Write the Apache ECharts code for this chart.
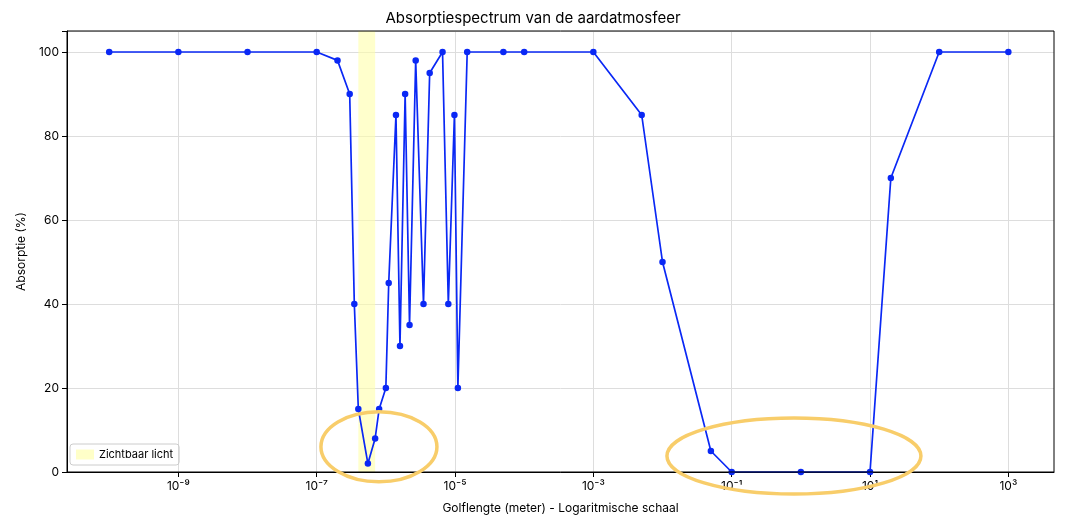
<!DOCTYPE html>
<html>
<head>
<meta charset="utf-8">
<script src="https://cdn.jsdelivr.net/npm/echarts@6/dist/echarts.min.js"></script>
<style>body{margin:0}#chart{width:1066px;height:524px}</style>
</head>
<body>
<div id="chart"></div>
<script>
// golflengte (m) en absorptie (%)
const wavelengths = [1e-10,1e-9,1e-8,1e-7,2e-7,3e-7,3.5e-7,4e-7,5.5e-7,7e-7,8e-7,1e-6,1.1e-6,1.4e-6,1.6e-6,1.9e-6,2.2e-6,2.7e-6,3.5e-6,4.3e-6,6.6e-6,8e-6,9.8e-6,1.1e-5,1.5e-5,5e-5,1e-4,1e-3,5e-3,1e-2,5e-2,1e-1,1,10,20,100,1000];
const absorption = [100,100,100,100,98,90,40,15,2,8,15,20,45,85,30,90,35,98,40,95,100,40,85,20,100,100,100,100,85,50,5,0,0,0,70,100,100];
const visibleBand = [4e-7, 7e-7];
const tickExps = [-9,-7,-5,-3,-1,1,3];
const sup = {'-':'⁻','0':'⁰','1':'¹','2':'²','3':'³','4':'⁴','5':'⁵','6':'⁶','7':'⁷','8':'⁸','9':'⁹'};

const data = wavelengths.map((w, i) => [Math.log10(w), absorption[i]]);
const font = 'Inter, "DejaVu Sans", sans-serif';

let myChart = echarts.init(document.getElementById('chart'));
let option = {
  animation: false,
  textStyle: {fontFamily: font},
  title: {text: 'Absorptiespectrum van de aardatmosfeer', left: 'center', top: 6,
    textStyle: {fontSize: 15, fontWeight: 'normal', color: '#000', fontFamily: font}},
  grid: {left: 67, right: 12, top: 31, bottom: 52},
  legend: {left: 70, top: 444, orient: 'vertical', data: [{name: 'Zichtbaar licht', icon: 'rect'}],
    itemWidth: 18, itemHeight: 10, borderColor: '#ccc', borderWidth: 1, borderRadius: 3, padding: [5, 6],
    textStyle: {fontSize: 11, color: '#000'}},
  xAxis: {
    type: 'value', min: -10.61, max: 3.66,
    name: 'Golflengte (meter) - Logaritmische schaal', nameLocation: 'middle', nameGap: 30,
    nameTextStyle: {fontSize: 12, color: '#000'},
    axisLine: {onZero: false, lineStyle: {color: '#000'}},
    axisTick: {show: true, customValues: tickExps, lineStyle: {color: '#000'}},
    axisLabel: {customValues: tickExps, color: '#000', fontSize: 12,
      formatter: v => '10' + String(v).split('').map(c => sup[c]).join('')},
    splitLine: {show: true, lineStyle: {color: '#ddd'}}
  },
  yAxis: {
    type: 'value', min: 0, max: 105, interval: 20,
    name: 'Absorptie (%)', nameLocation: 'middle', nameGap: 40,
    nameTextStyle: {fontSize: 12, color: '#000'},
    axisLine: {show: true, onZero: false, lineStyle: {color: '#000'}},
    axisTick: {show: true, lineStyle: {color: '#000'}},
    axisLabel: {color: '#000', fontSize: 12, formatter: v => v > 100 ? '' : v},
    splitLine: {lineStyle: {color: '#ddd'}}
  },
  series: [
    {name: 'Zichtbaar licht', type: 'line', data: [], itemStyle: {color: '#ffffc8'},
      markArea: {silent: true, itemStyle: {color: 'rgba(255,255,170,0.6)'},
        data: [[{xAxis: Math.log10(visibleBand[0])}, {xAxis: Math.log10(visibleBand[1])}]]}},
    {name: 'Absorptie', type: 'line', data: data, symbol: 'circle', symbolSize: 6.5,
      lineStyle: {color: '#0a28f5', width: 1.7}, itemStyle: {color: '#0a28f5'}}
  ]
};
myChart.setOption(option);

// oranje ellipsen rond de atmosferische vensters
function ellipse(cx, cy, rx, ry) {
  const c = myChart.convertToPixel({gridIndex: 0}, [cx, cy]);
  return {type: 'ellipse', shape: {cx: c[0], cy: c[1], rx: rx, ry: ry}, silent: true, z: 10,
    style: {fill: 'none', stroke: '#f8cd6a', lineWidth: 3.5}};
}
const tl = myChart.convertToPixel({gridIndex: 0}, [-10.61, 105]);
const br = myChart.convertToPixel({gridIndex: 0}, [3.66, 0]);
myChart.setOption({graphic: [
  ellipse(-6.1, 6, 58, 35), ellipse(-0.1, 3.8, 127, 38),
  {type: 'rect', silent: true, z: 9, shape: {x: tl[0], y: tl[1], width: br[0] - tl[0], height: br[1] - tl[1]},
    style: {fill: 'none', stroke: '#000', lineWidth: 1}}
]});
</script>
</body>
</html>
